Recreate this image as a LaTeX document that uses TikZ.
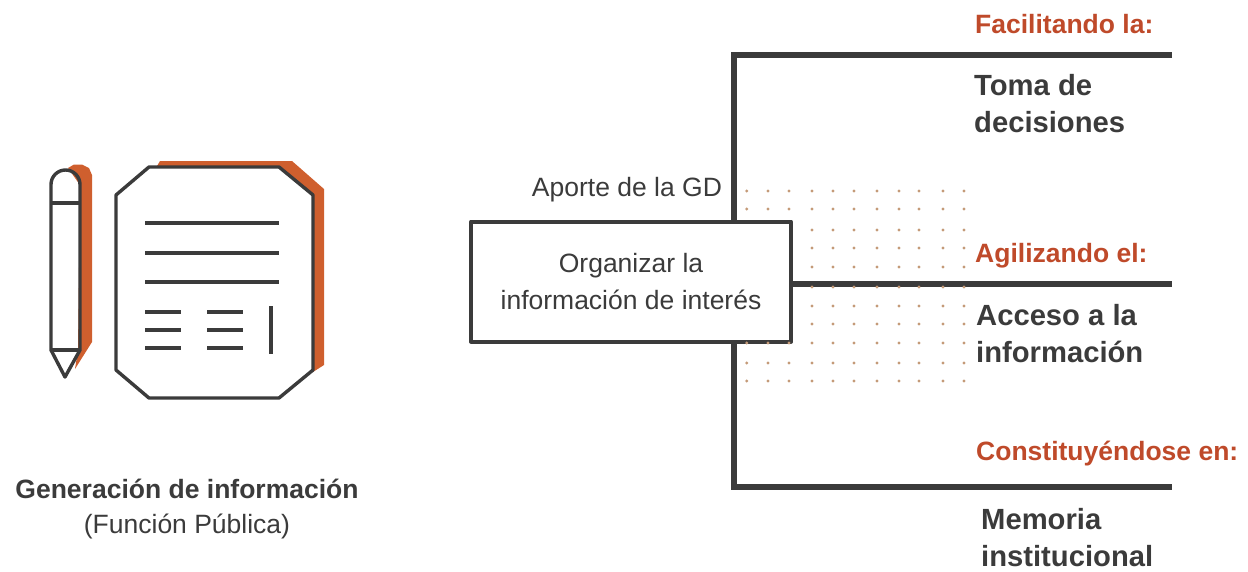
\documentclass[tikz,border=0pt]{standalone}
\usepackage{fontspec}
\setmainfont{Liberation Sans}
\definecolor{ink}{HTML}{3B3B3B}
\definecolor{rust}{HTML}{CF5F2E}
\definecolor{head}{HTML}{BF4A2A}
\definecolor{speck}{HTML}{C49A78}
\tikzset{
 trunk/.style={draw=ink,line width=6pt},
 iconline/.style={draw=ink,line width=3.4pt},
 smalltxt/.style={text=ink,font=\fontsize{26.5}{33}\selectfont,align=center,inner sep=0},
 headtxt/.style={text=head,font=\fontsize{26.5}{30}\selectfont\bfseries,anchor=west,inner sep=0},
 boldtxt/.style={text=ink,font=\fontsize{29.2}{37}\selectfont\bfseries,anchor=west,align=left,inner sep=0},
 box/.style={draw=ink,fill=white,line width=4pt,line join=round,minimum width=320pt,minimum height=120pt,inner sep=0,align=center,text=ink,font=\fontsize{26.5}{37}\selectfont},
}
\begin{document}
\begin{tikzpicture}[x=1pt,y=-1pt]
\useasboundingbox (0,0) rectangle (1248,571);
% icon shadows
\fill[rust] (157,166)--(160,161)--(292,161)--(324,189)--(324,365)--(313,372)--(313,195)--(279,167)--cycle;
\fill[rust] (68,168)--(74,164.5)--(82,164.5)--(89,168)--(92,175)--(92,342)--(75,369)--(78,350)--(80,185)--cycle;
% document
\draw[iconline,line join=round] (116,195)--(149,167)--(279,167)--(313,195)--(313,370)--(279,398)--(149,398)--(116,370)--cycle;
\foreach \y in {223,253,282} \draw[iconline] (145,\y)--(279,\y);
\foreach \y in {312,330,348} {\draw[iconline] (145,\y)--(181,\y); \draw[iconline] (207,\y)--(243,\y);}
\draw[iconline] (271,306)--(271,354);
% pencil
\draw[iconline,line join=round] (51,350)--(51,184.5) arc[start angle=180,end angle=360,radius=14.5]--(80,350)--(65,377)--cycle;
\draw[iconline] (51,203)--(80,203);
\draw[iconline] (51,350)--(80,350);
% connectors
\coordinate (topstart) at (1172,55);
\coordinate (topcorner) at (734,55);
\coordinate (botcorner) at (734,487);
\coordinate (botend) at (1172,487);
\coordinate (midend) at (1172,284);
\draw[trunk,line join=miter] (topstart)--(topcorner)--(botcorner)--(botend);
\node[box] (organizar) at (631,281.5) {Organizar la\\información de interés};
\draw[trunk] (organizar.east |- midend)--(midend);
% dots
\foreach \x in {746.7,768,789,812,833,854,877,899,919,943,964} {
  \foreach \y in {191,209,343,363,381} \fill[speck] (\x,\y) circle[radius=1.7];
}
\foreach \x in {812,833,854,877,899,919,943,964} {
  \foreach \y in {230,248,267,287,306,324} \fill[speck] (\x,\y) circle[radius=1.7];
}
% text
\node[smalltxt] (aporte) at (627,189.5) {Aporte de la GD};
\node[headtxt] (h1) at (975,24) {Facilitando la:};
\node[boldtxt] (t1) at (974,104) {Toma de\\decisiones};
\node[headtxt] (h2) at (975,255.5) {Agilizando el:};
\node[boldtxt] (t2) at (976,334) {Acceso a la\\información};
\node[headtxt] (h3) at (976,453.5) {Constituyéndose en:};
\node[boldtxt] (t3) at (981,538) {Memoria\\institucional};
\node[text=ink,font=\fontsize{26.5}{35}\selectfont,align=center,inner sep=0] (cap) at (187,509) {\textbf{Generación de información}\\(Función Pública)};
\end{tikzpicture}
\end{document}
